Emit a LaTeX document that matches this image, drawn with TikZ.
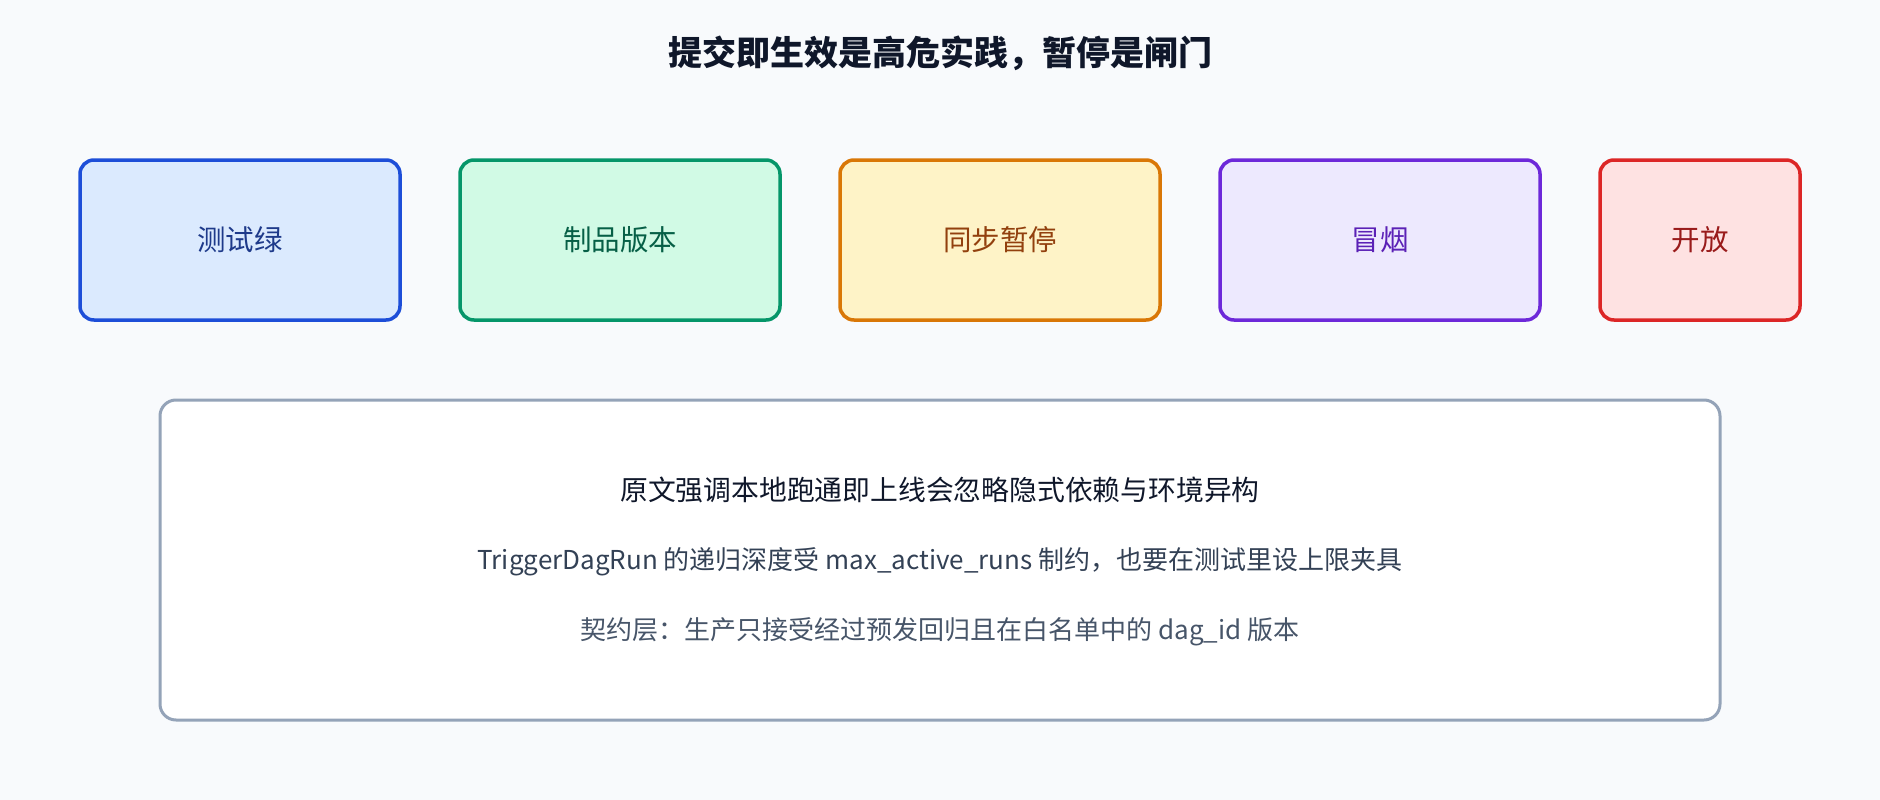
\documentclass[tikz,border=0pt]{standalone}
\usepackage{fontspec}
\setmainfont{Noto Sans CJK SC}
\definecolor{bg}{HTML}{F8FAFC}
\definecolor{ttl}{HTML}{0F172A}
\definecolor{bfA}{HTML}{DBEAFE}\definecolor{bdA}{HTML}{1D4ED8}\definecolor{btA}{HTML}{1E3A8A}
\definecolor{bfB}{HTML}{D1FAE5}\definecolor{bdB}{HTML}{059669}\definecolor{btB}{HTML}{065F46}
\definecolor{bfC}{HTML}{FEF3C7}\definecolor{bdC}{HTML}{D97706}\definecolor{btC}{HTML}{92400E}
\definecolor{bfD}{HTML}{EDE9FE}\definecolor{bdD}{HTML}{6D28D9}\definecolor{btD}{HTML}{5B21B6}
\definecolor{bfE}{HTML}{FEE2E2}\definecolor{bdE}{HTML}{DC2626}\definecolor{btE}{HTML}{991B1B}
\definecolor{noteb}{HTML}{94A3B8}
\definecolor{lineA}{HTML}{0F172A}
\definecolor{lineB}{HTML}{334155}
\definecolor{lineC}{HTML}{475569}
\begin{document}
\begin{tikzpicture}[x=1pt,y=-1pt,
  stage/.style={draw, line width=3.5pt, rounded corners=14pt, inner sep=0pt,
    minimum height=160pt, font=\fontsize{28.5}{32}\selectfont},
  notebox/.style={draw=noteb, fill=white, line width=3pt, rounded corners=16pt},
  noteline/.style={font=\fontsize{26}{30}\selectfont, inner sep=0pt}]
\useasboundingbox (0,0) rectangle (1880,800);
\fill[bg] (0,0) rectangle (1880,800);
\node[font=\bfseries\fontsize{34}{38}\selectfont, text=ttl] (title) at (940,53) {提交即生效是高危实践，暂停是闸门};
\node[stage, minimum width=320pt, fill=bfA, draw=bdA, text=btA] (s1) at (240,240) {测试绿};
\node[stage, minimum width=320pt, fill=bfB, draw=bdB, text=btB] (s2) at (620,240) {制品版本};
\node[stage, minimum width=320pt, fill=bfC, draw=bdC, text=btC] (s3) at (1000,240) {同步暂停};
\node[stage, minimum width=320pt, fill=bfD, draw=bdD, text=btD] (s4) at (1380,240) {冒烟};
\node[stage, minimum width=200pt, fill=bfE, draw=bdE, text=btE] (s5) at (1700,240) {开放};
\draw[notebox] (160,400) rectangle (1720,720);
\node[noteline, text=lineA, font=\fontsize{27.8}{32}\selectfont] (n1) at (940,490) {原文强调本地跑通即上线会忽略隐式依赖与环境异构};
\node[noteline, text=lineB] (n2) at (940,562) {TriggerDagRun 的递归深度受 max\_active\_runs 制约，也要在测试里设上限夹具};
\node[noteline, text=lineC] (n3) at (940,632) {契约层：生产只接受经过预发回归且在白名单中的 dag\_id 版本};
\end{tikzpicture}
\end{document}
